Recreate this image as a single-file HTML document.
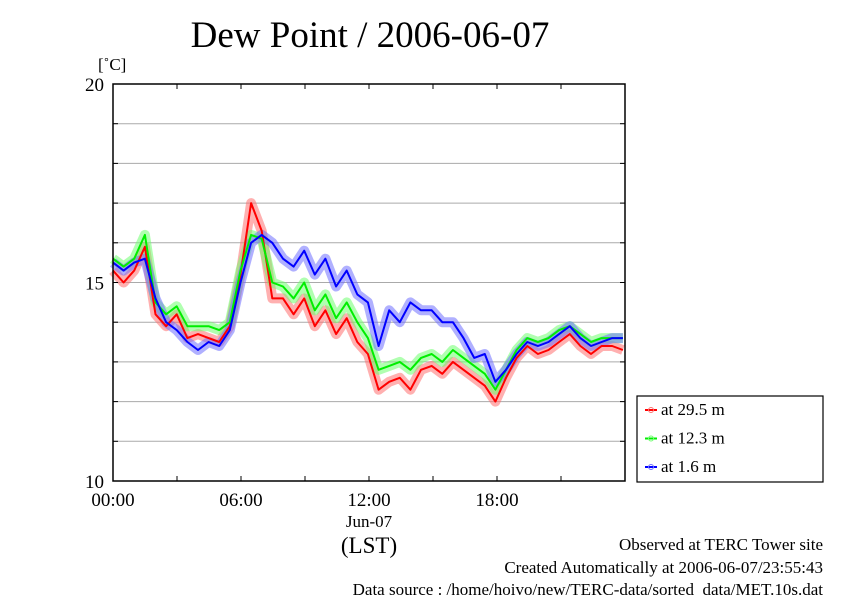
<!DOCTYPE html>
<html><head><meta charset="utf-8"><style>
body{margin:0;background:#fff;}
svg{display:block;font-family:"Liberation Serif",serif;}
</style></head><body>
<svg width="842" height="595" viewBox="0 0 842 595">
<text x="370" y="47" font-size="37" text-anchor="middle">Dew Point / 2006-06-07</text>
<text x="98" y="70" font-size="17">[˚C]</text>
<g id="grid"></g>
<g id="series"></g>
<rect x="113" y="84" width="512" height="397" fill="none" stroke="#000" stroke-width="1.5"/>
<g id="axes" font-size="19"></g>
<text x="369" y="527" font-size="17" text-anchor="middle">Jun-07</text>
<text x="369" y="553" font-size="23" text-anchor="middle">(LST)</text>
<g>
<rect x="637" y="396" width="186" height="86" fill="#fff" stroke="#000" stroke-width="1.2"/>
<g id="legend"></g>
</g>
<g font-size="17" text-anchor="end">
<text x="823" y="550">Observed at TERC Tower site</text>
<text x="823" y="573">Created Automatically at 2006-06-07/23:55:43</text>
<text x="823" y="595">Data source : /home/hoivo/new/TERC-data/sorted_data/MET.10s.dat</text>
</g>
</svg>
<script>
const yTicks=[10,15,20];
const xTickLabels=["00:00","06:00","12:00","18:00"];
const seriesNames=["at 29.5 m","at 12.3 m","at 1.6 m"];
const red=[15.3,15.0,15.3,15.9,14.2,13.9,14.2,13.6,13.7,13.6,13.5,13.9,15.2,17.0,16.3,14.6,14.6,14.2,14.6,13.9,14.3,13.7,14.1,13.5,13.2,12.3,12.5,12.6,12.3,12.8,12.9,12.7,13.0,12.8,12.6,12.4,12.0,12.6,13.1,13.4,13.2,13.3,13.5,13.7,13.4,13.2,13.4,13.4,13.3];
const green=[15.6,15.4,15.6,16.2,14.5,14.2,14.4,13.9,13.9,13.9,13.8,14.0,15.3,16.2,16.1,15.0,14.9,14.6,15.0,14.3,14.7,14.1,14.5,14.0,13.6,12.8,12.9,13.0,12.8,13.1,13.2,13.0,13.3,13.1,12.9,12.7,12.3,12.8,13.3,13.6,13.5,13.6,13.8,13.9,13.7,13.5,13.6,13.6,13.6];
const blue=[15.5,15.3,15.5,15.6,14.6,14.0,13.8,13.5,13.3,13.5,13.4,13.8,15.0,16.0,16.2,16.0,15.6,15.4,15.8,15.2,15.6,14.9,15.3,14.7,14.5,13.4,14.3,14.0,14.5,14.3,14.3,14.0,14.0,13.6,13.1,13.2,12.5,12.8,13.2,13.5,13.4,13.5,13.7,13.9,13.6,13.4,13.5,13.6,13.6];
const hours=red.map((_,i)=>i*0.5*23.9/24);
const NS="http://www.w3.org/2000/svg";
const X=h=>113+h*512/24, Y=v=>481-(v-10)*39.7;
function mk(t,a,p){const e=document.createElementNS(NS,t);for(const k in a)e.setAttribute(k,a[k]);p.appendChild(e);return e;}
const grid=document.getElementById('grid'),axes=document.getElementById('axes');
for(let v=11;v<20;v++){
 const l=mk('line',{x1:113,x2:625,y1:Y(v),y2:Y(v),stroke:'#aaa','stroke-width':1},grid);
 
 
}
for(let v=10;v<=20;v++){
 mk('line',{x1:113,x2:118,y1:Y(v),y2:Y(v),stroke:'#000'},axes);
 mk('line',{x1:620,x2:625,y1:Y(v),y2:Y(v),stroke:'#000'},axes);
}
yTicks.forEach(v=>{
 const t=mk('text',{x:104,y:Y(v)+7,'text-anchor':'end'},axes);t.textContent=v;
 
 
});
for(let h=0;h<=24;h+=3){mk('line',{x1:X(h),x2:X(h),y1:481,y2:476,stroke:'#000'},axes);mk('line',{x1:X(h),x2:X(h),y1:84,y2:89,stroke:'#000'},axes);}
xTickLabels.forEach((s,i)=>{
 const t=mk('text',{x:X(i*6),y:506,'text-anchor':'middle'},axes);t.textContent=s;
 
 
});
const sg=document.getElementById('series');
const defs=[[red,'#ff0000','#ff7070'],[green,'#00ee00','#70ff70'],[blue,'#0000ff','#7070ff']];
defs.forEach(([d,c,lc],si)=>{
 const pts=d.map((v,i)=>X(hours[i]).toFixed(1)+','+Y(v).toFixed(1)).join(' ');
 const b=mk('polyline',{points:pts,fill:'none',stroke:lc,'stroke-width':10,'stroke-opacity':0.55,'stroke-linejoin':'round'},sg);
 
 
});
defs.forEach(([d,c],si)=>{
 const pts=d.map((v,i)=>X(hours[i]).toFixed(1)+','+Y(v).toFixed(1)).join(' ');
 const l=mk('polyline',{points:pts,fill:'none',stroke:c,'stroke-width':2,'stroke-linejoin':'round'},sg);
 
 
});
const lg=document.getElementById('legend');
seriesNames.forEach((n,i)=>{
 const y=410+i*28.5;
 const g=mk('g',{},lg);
 
 
 mk('line',{x1:645,x2:657,y1:y,y2:y,stroke:defs[i][1],'stroke-width':2},g);
 mk('circle',{cx:651,cy:y,r:2.5,fill:'none',stroke:defs[i][2]},g);
 const t=mk('text',{x:661,y:y+5,'font-size':17},g);t.textContent=n;
});
</script>
</body></html>
